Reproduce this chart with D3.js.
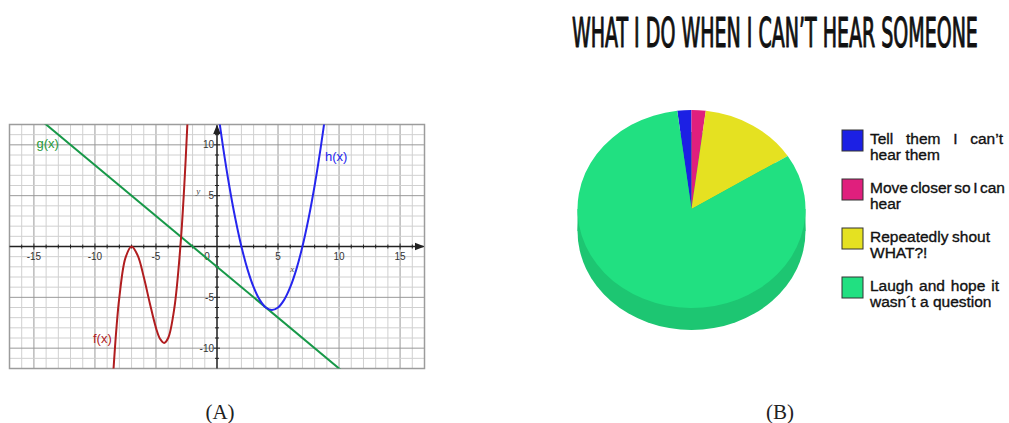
<!DOCTYPE html>
<html>
<head>
<meta charset="utf-8">
<script src="https://d3js.org/d3.v7.min.js"></script>
<style>
  body { margin: 0; background: #fff; }
  svg { display: block; }
</style>
</head>
<body>
<svg width="1009" height="423"></svg>
<script>
// ---- panel A data ----
const fPoints = [[-8.6,-14.3],[-8.25,-8.2],[-8,-5],[-7.5,-1.12],[-7,0],[-6.5,-0.88],[-6,-3],[-5.5,-5.6],
                 [-5,-8],[-4.67,-9.07],[-4.33,-9.48],[-4,-9],[-3.5,-6.1],[-3,0],[-2.7,5.55],[-2.4,12.7],[-2.3,15.5]];
const gPoints = [[-15,13],[11,-13]];
const hPoints = [[0,14],[0.5,9.75],[1,6],[1.5,2.75],[2,0],[2.5,-2.25],[3,-4],[3.5,-5.25],[4,-6],[4.5,-6.25],
                 [5,-6],[5.5,-5.25],[6,-4],[6.5,-2.25],[7,0],[7.5,2.75],[8,6],[8.5,9.75],[9,14]];
const xTickLabels = [-15, -10, -5, 5, 10, 15];
const yTickLabels = [10, 5, -5, -10];

// ---- panel B data ----
const pieTitle = 'WHAT I DO WHEN I CAN’T HEAR SOMEONE';
const answers = ['Tell them I can’t hear them', 'Move closer so I can hear', 'Repeatedly shout WHAT?!', 'Laugh and hope it wasn´t a question'];
const answerLines = [['Tell them I can’t', 'hear them'], ['Move closer so I can', 'hear'], ['Repeatedly shout', 'WHAT?!'], ['Laugh and hope it', 'wasn´t a question']];
const shares = [2, 2, 14, 82];
const colors = ['#1c20e4', '#e01f7d', '#e5e121', '#21e081'];

const svg = d3.select('svg');

// ================= panel A =================
const x = d3.scaleLinear().domain([-17, 17]).range([9.5, 424.5]);
const y = d3.scaleLinear().domain([-12, 12]).range([368.5, 124.5]);
const A = svg.append('g');

A.append('clipPath').attr('id', 'plotclip').append('rect')
  .attr('x', x(-17)).attr('y', y(12)).attr('width', x(17) - x(-17)).attr('height', y(-12) - y(12));

// grid
A.append('g').selectAll('line').data(d3.range(-17, 18)).join('line')
  .attr('x1', d => x(d)).attr('x2', d => x(d)).attr('y1', y(12)).attr('y2', y(-12))
  .attr('stroke', d => d % 5 === 0 ? '#999' : '#d0d0d0').attr('stroke-width', 1);
A.append('g').selectAll('line').data(d3.range(-12, 13)).join('line')
  .attr('y1', d => y(d)).attr('y2', d => y(d)).attr('x1', x(-17)).attr('x2', x(17))
  .attr('stroke', d => d % 5 === 0 ? '#999' : '#d0d0d0').attr('stroke-width', 1);

// frame
A.append('rect').attr('x', x(-17)).attr('y', y(12)).attr('width', x(17) - x(-17)).attr('height', y(-12) - y(12))
  .attr('fill', 'none').attr('stroke', '#9c9c9c').attr('stroke-width', 1.5);

// axes with arrows
const defs = svg.append('defs');
defs.append('marker').attr('id', 'arrow').attr('viewBox', '0 0 10 10').attr('refX', 9).attr('refY', 5)
  .attr('markerWidth', 7).attr('markerHeight', 7).attr('orient', 'auto-start-reverse')
  .append('path').attr('d', 'M0,1 L10,5 L0,9 Z').attr('fill', '#222');
A.append('line').attr('x1', x(-17)).attr('x2', x(17) - 1).attr('y1', y(0)).attr('y2', y(0))
  .attr('stroke', '#222').attr('stroke-width', 1.4).attr('marker-end', 'url(#arrow)');
A.append('line').attr('x1', x(0)).attr('x2', x(0)).attr('y1', y(-12)).attr('y2', y(12) + 1)
  .attr('stroke', '#222').attr('stroke-width', 1.4).attr('marker-end', 'url(#arrow)');

// small ticks on axes
A.append('g').selectAll('line').data(d3.range(-16, 17).filter(d => d !== 0)).join('line')
  .attr('x1', d => x(d)).attr('x2', d => x(d))
  .attr('y1', d => y(0) - (d % 5 === 0 ? 3 : 2)).attr('y2', d => y(0) + (d % 5 === 0 ? 3 : 2))
  .attr('stroke', '#222').attr('stroke-width', 1);
A.append('g').selectAll('line').data(d3.range(-11, 12).filter(d => d !== 0)).join('line')
  .attr('y1', d => y(d)).attr('y2', d => y(d))
  .attr('x1', d => x(0) - (d % 5 === 0 ? 3 : 2)).attr('x2', d => x(0) + (d % 5 === 0 ? 3 : 2))
  .attr('stroke', '#222').attr('stroke-width', 1);

// tick labels
const tickFont = 'Liberation Sans, Arial, sans-serif';
A.append('g').selectAll('text').data(xTickLabels).join('text')
  .attr('x', d => x(d)).attr('y', y(0) + 13.5).attr('text-anchor', 'middle')
  .attr('font-family', tickFont).attr('font-size', 10).attr('fill', '#333').text(d => d);
A.append('text').attr('x', x(0) - 10).attr('y', y(0) + 13.5).attr('text-anchor', 'middle')
  .attr('font-family', tickFont).attr('font-size', 10).attr('fill', '#333').text('0');
A.append('g').selectAll('text').data(yTickLabels).join('text')
  .attr('x', x(0) - 3).attr('y', d => y(d) + 3.5).attr('text-anchor', 'end')
  .attr('font-family', tickFont).attr('font-size', 10).attr('fill', '#333').text(d => d);

A.append('text').attr('x', x(-1.7)).attr('y', y(5.2)).attr('font-family', 'Liberation Serif, serif')
  .attr('font-style', 'italic').attr('font-size', 9).attr('fill', '#444').text('y');
A.append('text').attr('x', x(6)).attr('y', y(-2.5)).attr('font-family', 'Liberation Serif, serif')
  .attr('font-style', 'italic').attr('font-size', 9).attr('fill', '#444').text('x');

// curves
const line = d3.line().x(d => x(d[0])).y(d => y(d[1])).curve(d3.curveCatmullRom);
const curves = A.append('g').attr('clip-path', 'url(#plotclip)');
curves.append('path').datum(gPoints).attr('d', line).attr('fill', 'none').attr('stroke', '#179848').attr('stroke-width', 2);
curves.append('path').datum(fPoints).attr('d', line).attr('fill', 'none').attr('stroke', '#b01d1f').attr('stroke-width', 2);
curves.append('path').datum(hPoints).attr('d', line).attr('fill', 'none').attr('stroke', '#2626ee').attr('stroke-width', 2);

const lblFont = 'Liberation Sans, Arial, sans-serif';
A.append('text').attr('x', 36.5).attr('y', 148).attr('font-family', lblFont).attr('font-size', 13).attr('fill', '#2a9a3a').text('g(x)');
A.append('text').attr('x', 325).attr('y', 161).attr('font-family', lblFont).attr('font-size', 13).attr('fill', '#2626ee').text('h(x)');
A.append('text').attr('x', 93).attr('y', 343).attr('font-family', lblFont).attr('font-size', 13).attr('fill', '#b01d1f').text('f(x)');

// captions
svg.append('text').attr('x', 220).attr('y', 419).attr('text-anchor', 'middle')
  .attr('font-family', 'Liberation Serif, DejaVu Serif, serif').attr('font-size', 21).attr('fill', '#222').text('(A)');
svg.append('text').attr('x', 780).attr('y', 419).attr('text-anchor', 'middle')
  .attr('font-family', 'Liberation Serif, DejaVu Serif, serif').attr('font-size', 21).attr('fill', '#222').text('(B)');

// ================= panel B =================
const title = svg.append('text').attr('x', 0).attr('y', 0)
  .attr('font-family', 'Liberation Sans Narrow, DejaVu Sans Condensed, sans-serif')
  .attr('font-size', 40).attr('fill', '#111').attr('stroke', '#111').attr('stroke-width', 1.1)
  .attr('stroke-linejoin', 'round').text(pieTitle);
const tw = title.node().getComputedTextLength();
title.attr('transform', `translate(572,47) scale(${406 / tw},1)`);

const cx = 691.5, cy = 209, rx = 114, ry = 99, depth = 22;
const k = ry / rx;
const pie = d3.pie().sort(null)
  .startAngle(-2 * Math.PI * shares[0] / 100)
  .endAngle(2 * Math.PI - 2 * Math.PI * shares[0] / 100);
const arcs = pie(shares);
const arc = d3.arc().innerRadius(0).outerRadius(rx);

// side wall (front half is all the last slice)
const sideColor = d3.color(colors[3]).darker(0.35);
svg.append('rect').attr('x', cx - rx).attr('y', cy).attr('width', 2 * rx).attr('height', depth).attr('fill', sideColor);
svg.append('g').attr('transform', `translate(${cx},${cy + depth}) scale(1,${k})`)
  .append('path').attr('d', arc({startAngle: 0, endAngle: 2 * Math.PI})).attr('fill', sideColor);

svg.append('g').attr('transform', `translate(${cx},${cy}) scale(1,${k})`)
  .selectAll('path').data(arcs).join('path')
  .attr('d', arc).attr('fill', (d, i) => colors[i]);

// legend
const leg = svg.append('g').attr('transform', 'translate(842,130)');
const lineEnds = [133, 135, 120, 129];
const item = leg.selectAll('g').data(answers).join('g').attr('transform', (d, i) => `translate(0,${i * 49})`);
item.append('rect').attr('width', 21).attr('height', 21).attr('fill', (d, i) => colors[i])
  .attr('stroke', '#333').attr('stroke-width', 1);
item.each(function (d, i) {
  const g = d3.select(this);
  answerLines[i].forEach((t, j) => {
    const tx = g.append('text').attr('x', 28).attr('y', 13.5 + j * 16.5)
      .attr('font-family', 'Liberation Sans, Arial, sans-serif').attr('font-size', 15.5)
      .attr('fill', '#111').attr('stroke', '#111').attr('stroke-width', 0.35).text(t);
    if (j === 0) {
      const w = tx.node().getComputedTextLength();
      const gaps = t.split(' ').length - 1;
      if (gaps > 0) tx.attr('word-spacing', (lineEnds[i] - w) / gaps);
    }
  });
});
</script>
</body>
</html>
